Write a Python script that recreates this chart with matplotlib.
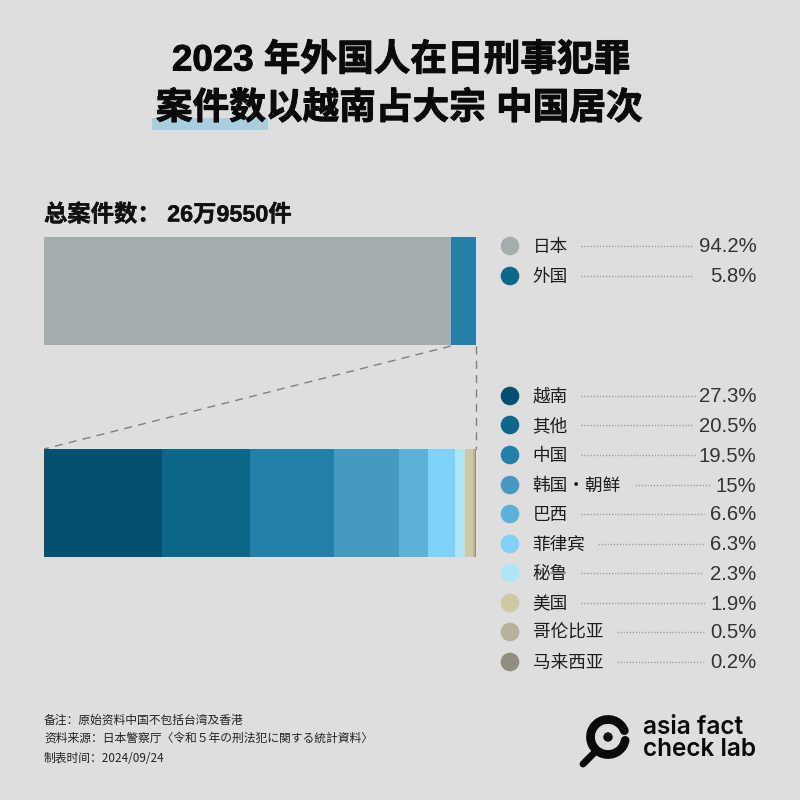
import matplotlib
matplotlib.use("Agg")
import matplotlib.pyplot as plt
import matplotlib.patheffects as pe
from matplotlib.patches import Arc, Circle, Rectangle

plt.rcParams['font.family'] = ['Noto Sans CJK SC', 'DejaVu Sans']

title_lines = ["2023 年外国人在日刑事犯罪", "案件数以越南占大宗 中国居次"]
subtitle = "总案件数： 26万9550件"
top_labels = ["日本", "外国"]
top_values = [94.2, 5.8]
top_text = ["94.2%", "5.8%"]
bottom_labels = ["越南", "其他", "中国", "韩国・朝鲜", "巴西", "菲律宾", "秘鲁", "美国", "哥伦比亚", "马来西亚"]
bottom_values = [27.3, 20.5, 19.5, 15, 6.6, 6.3, 2.3, 1.9, 0.5, 0.2]
bottom_text = ["27.3%", "20.5%", "19.5%", "15%", "6.6%", "6.3%", "2.3%", "1.9%", "0.5%", "0.2%"]
notes = ["备注：原始资料中国不包括台湾及香港",
         "资料来源：日本警察厅〈令和５年の刑法犯に関する統計資料〉",
         "制表时间：2024/09/24"]

BG = "#dedede"
top_bar_colors = ["#a5acad", "#2580a8"]
top_dot_colors = ["#a5acad", "#0c6789"]
bottom_colors = ["#054f70", "#0c6789", "#2580a8", "#4899c1", "#5fb0d9",
                 "#7fd1f7", "#aee6f6", "#d0c8a4", "#b7b198", "#918d7f"]
MIXED = ["Liberation Sans", "Noto Sans CJK SC"]

W = H = 800
fig = plt.figure(figsize=(8, 8), dpi=100, facecolor=BG)


def bar_axes(x0, y0, x1, y1):
    a = fig.add_axes([x0 / W, 1 - y1 / H, (x1 - x0) / W, (y1 - y0) / H])
    a.axis("off")
    a.set_ylim(0, 1)
    return a


def stack(a, values, colors):
    left = 0
    for v, c in zip(values, colors):
        a.barh(0.5, v, left=left, height=1, color=c, linewidth=0)
        left += v
    a.set_xlim(0, left)


stack(bar_axes(44, 237, 476, 345), top_values, top_bar_colors)
stack(bar_axes(44, 449, 476, 557), bottom_values, bottom_colors)

ov = fig.add_axes([0, 0, 1, 1], zorder=5)
ov.set_xlim(0, W)
ov.set_ylim(H, 0)
ov.axis("off")
ov.patch.set_alpha(0)

# title
heavy = [pe.withStroke(linewidth=0.7, foreground="#0a0a0a")]
ov.add_patch(Rectangle((152, 118), 116, 12, color="#a9cfdf", lw=0, zorder=1))
for y, x, t in zip([61, 109], [401, 399], title_lines):
    ov.text(x, y, t, ha="center", va="center", fontsize=26.4, fontweight="bold",
            family=MIXED, color="#0a0a0a", zorder=3, path_effects=heavy)
ov.text(44, 215, subtitle, ha="left", va="center", fontsize=16.8, fontweight="bold",
        family=MIXED, color="#111111",
        path_effects=[pe.withStroke(linewidth=0.3, foreground="#111111")])

# connector
ov.plot([451, 44], [346, 449], color="#808080", lw=1.0, dashes=(5.8, 4.5))
ov.plot([476, 476], [346, 449], color="#808080", lw=1.0, dashes=(5.8, 4.5))

# legend
top_y = [246, 276]
bottom_y = [396, 425, 455, 485, 514, 544, 573, 603, 632, 662]
top_dots = [(581, 693), (581, 694)]
bottom_dots = [(581, 696), (581, 693), (581, 696), (635, 710), (581, 704),
               (598, 704), (581, 703), (581, 705), (617, 704), (617, 703)]
rows = list(zip(top_y, top_labels, top_text, top_dot_colors, top_dots)) + \
       list(zip(bottom_y, bottom_labels, bottom_text, bottom_colors, bottom_dots))
for y, lab, pct, col, (d0, d1) in rows:
    ov.add_patch(Circle((510, y), 9.3, color=col, lw=0))
    ov.text(532.5, y + 1, lab, ha="left", va="center", fontsize=12.7, color="#1c1c1c")
    ov.text(756.5, y + 1, pct, ha="right", va="center", fontsize=14.6, color="#333333",
            family=["Liberation Sans", "DejaVu Sans"])
    ov.plot([d0, d1], [y, y], color="#999999", lw=1.0, dashes=(0.9, 1.3))

# notes
for y, t in zip([720, 738.5, 758], notes):
    ov.text(44, y, t, ha="left", va="center", fontsize=8.5, color="#222222")

# logo
cx, cy = 608, 737
ov.add_patch(Arc((cx, cy), 35, 35, theta1=11, theta2=339, color="#0a0a0a", lw=6.3, capstyle="round"))
ov.add_patch(Circle((cx, cy), 4.7, color="#0a0a0a", lw=0))
ov.plot([594, 583], [753, 764], color="#0a0a0a", lw=5, solid_capstyle="round")
ov.text(643, 727, "asia fact", ha="left", va="center", fontsize=17.6, fontweight="semibold",
        family=["Inter", "DejaVu Sans"], color="#0a0a0a")
ov.text(643, 749, "check lab", ha="left", va="center", fontsize=17.6, fontweight="semibold",
        family=["Inter", "DejaVu Sans"], color="#0a0a0a")

fig.savefig("out.png", dpi=100, facecolor=BG)
